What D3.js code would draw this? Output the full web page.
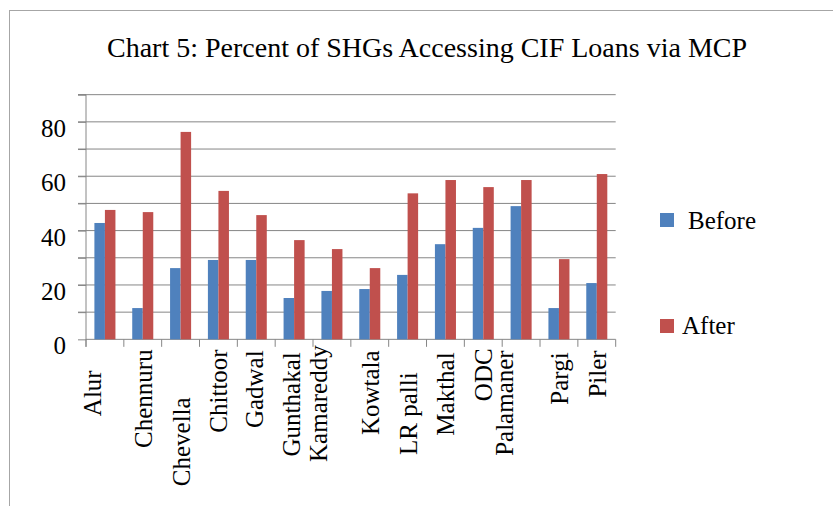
<!DOCTYPE html>
<html>
<head>
<meta charset="utf-8">
<script src="https://cdn.jsdelivr.net/npm/d3@7"></script>
<style>
  html, body { margin: 0; padding: 0; background: #fff; }
  svg, svg text { font-family: "Liberation Serif", "Times New Roman", serif !important; }
</style>
</head>
<body>
<svg id="chart" width="833" height="506"></svg>
<script>
// ---- data ----
const categories = ["Alur", "Chennuru", "Chevella", "Chittoor", "Gadwal", "Gunthakal", "Kamareddy",
                    "Kowtala", "LR palli", "Makthal", "ODC", "Palamaner", "Pargi", "Piler"];
const beforeValues = [42.8, 11.5, 26.2, 29.2, 29.2, 15.2, 17.8, 18.5, 23.7, 35.0, 41.0, 49.0, 11.5, 20.7];
const afterValues  = [47.6, 46.8, 76.3, 54.6, 45.7, 36.5, 33.2, 26.2, 53.7, 58.6, 56.0, 58.6, 29.5, 60.8];
const seriesNames = ["Before", "After"];
const yTickLabels = [0, 20, 40, 60, 80];
const titleText = "Chart 5: Percent of SHGs Accessing CIF Loans via MCP";

// ---- layout / style (kept apart from data) ----
const colors = ["#4F81BD", "#C0504D"];
const FONT = "'Liberation Serif', 'Times New Roman', serif";
const plot = { left: 86, right: 615.7, top: 94.67, bottom: 339.33 };
// small nudges [dx, dy] reproducing the original's irregular label placement
const labelNudge = [[-13, 21], [0, 0], [0, 48], [0, 0], [-2, 1], [-3, 3], [-14, -4],
                    [0, 1], [0, 23], [0, 3], [0, -1], [-17, 1], [0, 3], [0, 1]];

const svg = d3.select("#chart").style("font-family", FONT);

// chart frame
svg.append("rect")
  .attr("x", 9.5).attr("y", 10.5).attr("width", 840).attr("height", 520)
  .attr("fill", "none").attr("stroke", "#a6a6a6").attr("stroke-width", 1);

// title
svg.append("text")
  .attr("x", 427).attr("y", 57)
  .attr("text-anchor", "middle")
  .style("font-family", FONT).style("font-size", "28px").attr("fill", "#000")
  .text(titleText);

// scales
const x0 = d3.scaleBand().domain(categories).range([plot.left, plot.right])
  .paddingInner(0.444).paddingOuter(0.222);
const x1 = d3.scaleBand().domain(seriesNames).range([0, x0.bandwidth()]);
const y = d3.scaleLinear().domain([0, 90]).range([plot.bottom, plot.top]);

// gridlines every 10
const gridVals = d3.range(10, 91, 10);
svg.append("g").selectAll("line").data(gridVals).join("line")
  .attr("x1", plot.left - 8).attr("x2", plot.right)
  .attr("y1", d => y(d)).attr("y2", d => y(d))
  .attr("stroke", "#868686").attr("stroke-width", 1);

// y axis
const yAxis = d3.axisLeft(y).tickValues(d3.range(0, 91, 10)).tickSize(8)
  .tickFormat(d => yTickLabels.includes(d) ? d : "");
const yg = svg.append("g").attr("transform", `translate(${plot.left},0)`).call(yAxis);
yg.attr("font-family", null).attr("font-size", null);
yg.select(".domain").attr("stroke", "#868686").attr("d", `M-8,${plot.top}H0V${plot.bottom + 7.5}`);
yg.selectAll(".tick line").attr("stroke", "#868686");
yg.selectAll(".tick text")
  .attr("x", -20).attr("dy", "0.38em")
  .style("font-family", FONT).style("font-size", "25px").attr("fill", "#000")
  .attr("transform", "translate(0,5)");

// x axis line + tick marks at category boundaries
const step = x0.step();
const boundaries = d3.range(0, categories.length + 1).map(i => plot.left + i * step);
svg.append("line")
  .attr("x1", plot.left).attr("x2", plot.right)
  .attr("y1", y(0)).attr("y2", y(0))
  .attr("stroke", "#868686");
svg.append("g").selectAll("line").data(boundaries).join("line")
  .attr("x1", d => d).attr("x2", d => d)
  .attr("y1", y(0)).attr("y2", y(0) + 7.5)
  .attr("stroke", "#868686");

// bars
const groups = svg.append("g").selectAll("g").data(categories).join("g")
  .attr("transform", d => `translate(${x0(d)},0)`);
groups.selectAll("rect")
  .data((d, i) => [beforeValues[i], afterValues[i]].map((v, k) => ({ s: seriesNames[k], v, k })))
  .join("rect")
  .attr("x", d => x1(d.s))
  .attr("width", x1.bandwidth())
  .attr("y", d => y(d.v))
  .attr("height", d => y(0) - y(d.v))
  .attr("fill", d => colors[d.k]);

// x labels (rotated)
svg.append("g").selectAll("text").data(categories).join("text")
  .attr("transform", (d, i) => {
    const cx = x0(d) + x0.bandwidth() / 2 + labelNudge[i][0] + 9;
    const ty = y(0) + 10 + labelNudge[i][1];
    return `translate(${cx},${ty}) rotate(-90)`;
  })
  .attr("text-anchor", "end")
  .style("font-family", FONT).style("font-size", "25px").attr("fill", "#000")
  .text(d => d);

// legend
const legendItems = [
  { name: seriesNames[0], color: colors[0], sy: 213, tx: 688, ty: 229 },
  { name: seriesNames[1], color: colors[1], sy: 319, tx: 682, ty: 334 }
];
const lg = svg.append("g").selectAll("g").data(legendItems).join("g");
lg.append("rect").attr("x", 660).attr("y", d => d.sy).attr("width", 14).attr("height", 14)
  .attr("fill", d => d.color);
lg.append("text").attr("x", d => d.tx).attr("y", d => d.ty)
  .style("font-family", FONT).style("font-size", "25px").attr("fill", "#000").text(d => d.name);
</script>
</body>
</html>
